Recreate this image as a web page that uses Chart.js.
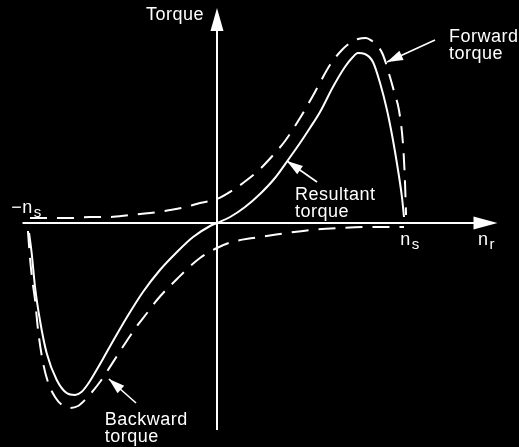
<!DOCTYPE html>
<html>
<head>
<meta charset="utf-8">
<title>Torque–speed characteristic</title>
<script src="https://cdn.jsdelivr.net/npm/chart.js@4.4.1/dist/chart.umd.min.js"></script>
<style>
  html, body { margin: 0; padding: 0; background: #000; }
  #wrap { width: 519px; height: 447px; position: relative; }
</style>
</head>
<body>
<div id="wrap"><canvas id="torque-chart"></canvas></div>
<script>
// Rotor speed n_r in units of n_s, torque in arbitrary units

const forwardSpeed = [-1.000, -0.893, -0.786, -0.679, -0.572, -0.465, -0.358, -0.251, -0.166, -0.091,
    0.000, 0.086, 0.160, 0.230, 0.310, 0.364, 0.444, 0.524, 0.604, 0.668, 0.711, 0.754, 0.797, 0.829,
    0.860, 0.888, 0.925, 0.952, 0.973, 0.995, 1.005, 1.011];
const forwardTorque = [0.05, 0.05, 0.05, 0.06, 0.06, 0.08, 0.10, 0.13, 0.16, 0.20,
    0.24, 0.33, 0.43, 0.54, 0.70, 0.82, 1.05, 1.31, 1.58, 1.73, 1.80, 1.84, 1.85, 1.82,
    1.77, 1.68, 1.46, 1.28, 1.13, 0.78, 0.43, 0.08];

const backwardSpeed = [-1.011, -1.000, -0.989, -0.973, -0.957, -0.930, -0.904, -0.866, -0.829, -0.786,
    -0.743, -0.706, -0.668, -0.626, -0.583, -0.535, -0.497, -0.428, -0.374, -0.321, -0.214, -0.091,
    0.000, 0.080, 0.193, 0.337, 0.497, 0.658, 0.818, 1.000];
const backwardTorque = [-0.08, -0.35, -0.55, -0.77, -1.07, -1.40, -1.59, -1.74, -1.82, -1.85,
    -1.83, -1.77, -1.69, -1.59, -1.47, -1.33, -1.22, -1.03, -0.90, -0.77, -0.56, -0.35,
    -0.25, -0.19, -0.15, -0.11, -0.07, -0.05, -0.04, -0.04];

const resultantSpeed = [-1.005, -0.991, -0.973, -0.947, -0.911, -0.857, -0.804, -0.759, -0.725, -0.690,
    -0.663, -0.610, -0.556, -0.481, -0.396, -0.305, -0.214, -0.128, -0.037, 0.000, 0.070, 0.150, 0.230,
    0.310, 0.380, 0.444, 0.497, 0.551, 0.620, 0.684, 0.722, 0.754, 0.791, 0.834, 0.872, 0.909,
    0.941, 0.968, 0.989, 1.000];
const resultantTorque = [-0.10, -0.30, -0.64, -0.97, -1.30, -1.57, -1.70, -1.72, -1.69, -1.61,
    -1.53, -1.36, -1.18, -0.94, -0.69, -0.47, -0.29, -0.14, -0.03, 0.00, 0.06, 0.16, 0.29,
    0.45, 0.63, 0.80, 0.95, 1.11, 1.36, 1.56, 1.65, 1.70, 1.69, 1.61, 1.40, 1.13,
    0.83, 0.53, 0.26, 0.06];

const toPoints = (xs, ys) => xs.map((x, i) => ({ x: x, y: ys[i] }));

// axis extents and annotation arrows, in data units
const AXIS = { xFrom: -1.04, xTo: 1.50, yFrom: -2.07, yTo: 2.15 };
const CALLOUTS = [
    { text: ['Forward', 'torque'], from: [1.166, 1.83], to: [0.909, 1.61], at: [1.241, 1.81] },
    { text: ['Resultant', 'torque'], from: [0.535, 0.41], to: [0.374, 0.62], at: [0.417, 0.23] },
    { text: ['Backward', 'torque'], from: [-0.433, -1.80], to: [-0.578, -1.56], at: [-0.600, -2.02] }
];

const FONT = '18px "Liberation Sans", Arial, sans-serif';
const SUB_FONT = '15px "Liberation Sans", Arial, sans-serif';

function arrowHead(ctx, x1, y1, x2, y2, len, half) {
    const a = Math.atan2(y2 - y1, x2 - x1);
    const bx = x2 - len * Math.cos(a), by = y2 - len * Math.sin(a);
    ctx.beginPath();
    ctx.moveTo(x2, y2);
    ctx.lineTo(bx + half * Math.sin(a), by - half * Math.cos(a));
    ctx.lineTo(bx - half * Math.sin(a), by + half * Math.cos(a));
    ctx.closePath();
    ctx.fill();
}

// n with a subscript, e.g. n_s
function subLabel(ctx, x, y, sub, prefix) {
    ctx.font = FONT;
    const main = (prefix || '') + 'n';
    ctx.fillText(main, x, y);
    const w = ctx.measureText(main).width;
    ctx.font = SUB_FONT;
    ctx.fillText(sub, x + w + 1, y + 4);
}

const axesPlugin = {
    id: 'axesPlugin',
    beforeDatasetsDraw(chart) {
        const { ctx, scales: { x, y } } = chart;
        const ox = x.getPixelForValue(0), oy = y.getPixelForValue(0);
        const xl = x.getPixelForValue(AXIS.xFrom), xr = x.getPixelForValue(AXIS.xTo);
        const yb = y.getPixelForValue(AXIS.yFrom), yt = y.getPixelForValue(AXIS.yTo);
        ctx.save();
        ctx.strokeStyle = '#fff';
        ctx.fillStyle = '#fff';
        ctx.lineWidth = 2;
        ctx.beginPath();
        ctx.moveTo(xl, oy); ctx.lineTo(xr - 20, oy);
        ctx.moveTo(ox, yb); ctx.lineTo(ox, yt + 20);
        ctx.stroke();
        arrowHead(ctx, xl, oy, xr, oy, 24, 6.5);
        arrowHead(ctx, ox, yb, ox, yt, 23, 6.5);
        ctx.restore();
    },
    afterDatasetsDraw(chart) {
        const { ctx, scales: { x, y } } = chart;
        const ox = x.getPixelForValue(0), oy = y.getPixelForValue(0);
        ctx.save();
        ctx.fillStyle = '#fff';
        ctx.strokeStyle = '#fff';
        ctx.letterSpacing = '0.5px';
        ctx.textBaseline = 'alphabetic';

        ctx.font = FONT;
        ctx.textAlign = 'right';
        ctx.fillText('Torque', ox - 13, oy - 203);
        ctx.textAlign = 'left';

        subLabel(ctx, x.getPixelForValue(-1.10), oy - 10, 's', '\u2212');
        subLabel(ctx, x.getPixelForValue(0.980), oy + 22, 's');
        subLabel(ctx, x.getPixelForValue(1.396), oy + 22, 'r');

        ctx.lineWidth = 1.6;
        CALLOUTS.forEach(c => {
            const x1 = x.getPixelForValue(c.from[0]), y1 = y.getPixelForValue(c.from[1]);
            const x2 = x.getPixelForValue(c.to[0]), y2 = y.getPixelForValue(c.to[1]);
            ctx.beginPath();
            ctx.moveTo(x1, y1);
            ctx.lineTo(x2, y2);
            ctx.stroke();
            arrowHead(ctx, x1, y1, x2, y2, 16, 5);
            ctx.font = FONT;
            const tx = x.getPixelForValue(c.at[0]), ty = y.getPixelForValue(c.at[1]);
            c.text.forEach((line, i) => ctx.fillText(line, tx, ty + i * 16.5));
        });
        ctx.restore();
    }
};

const curveStyle = {
    borderColor: '#fff',
    borderWidth: 2,
    pointRadius: 0,
    fill: false,
    cubicInterpolationMode: 'monotone'
};

new Chart(document.getElementById('torque-chart'), {
    type: 'line',
    data: {
        datasets: [
            { ...curveStyle, label: 'Forward torque', data: toPoints(forwardSpeed, forwardTorque), borderDash: [17, 10] },
            { ...curveStyle, label: 'Backward torque', data: toPoints(backwardSpeed, backwardTorque), borderDash: [17, 10] },
            { ...curveStyle, label: 'Resultant torque', data: toPoints(resultantSpeed, resultantTorque) }
        ]
    },
    options: {
        responsive: true,
        maintainAspectRatio: false,
        animation: false,
        layout: { padding: 0 },
        plugins: {
            legend: { display: false },
            tooltip: { enabled: false }
        },
        scales: {
            x: { type: 'linear', min: -1.1604, max: 1.615, display: false },
            y: { type: 'linear', min: -2.24, max: 2.23, display: false }
        }
    },
    plugins: [axesPlugin]
});
</script>
</body>
</html>
